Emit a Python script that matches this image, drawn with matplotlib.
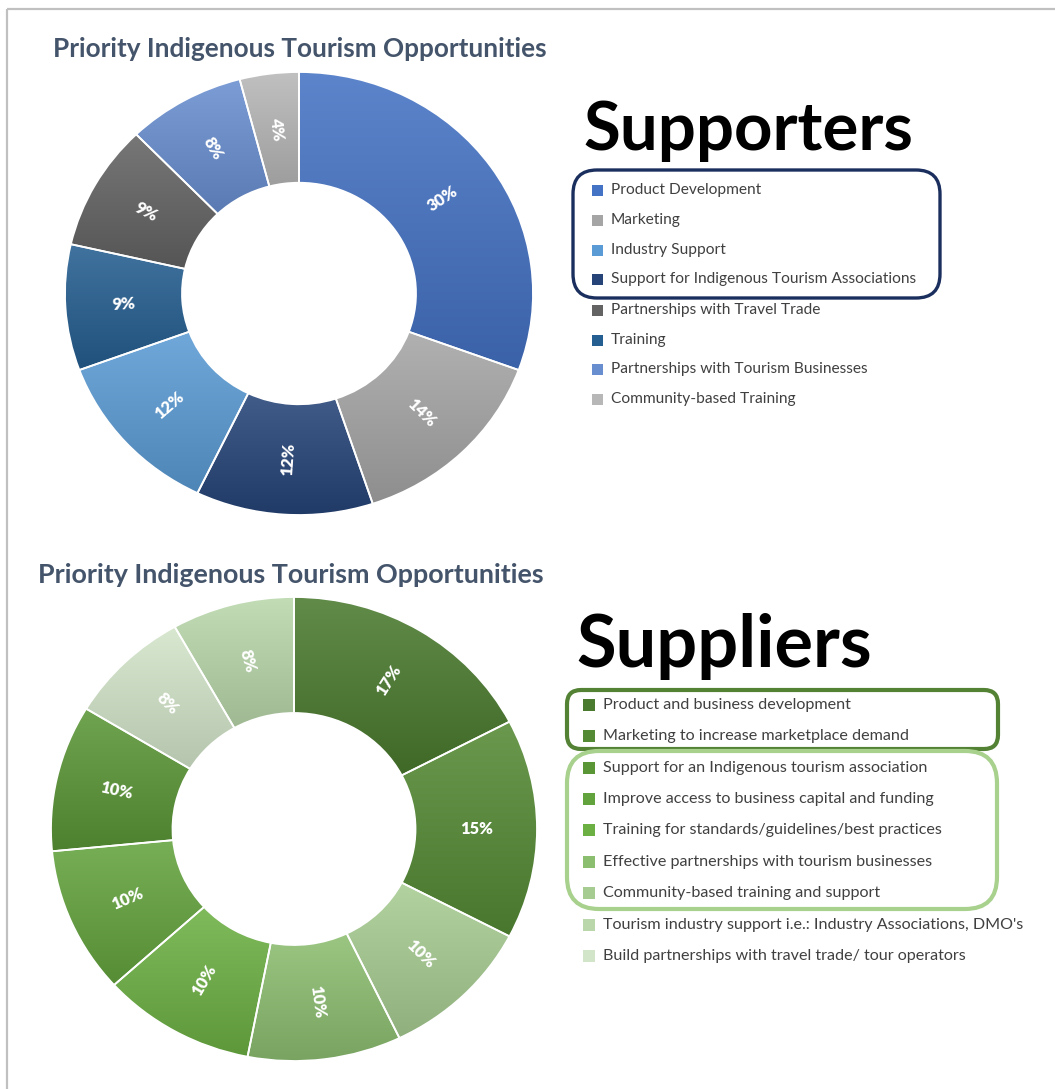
import numpy as np
import matplotlib
matplotlib.use("Agg")
import matplotlib.pyplot as plt
from matplotlib.patches import FancyBboxPatch, Rectangle
from matplotlib.colors import to_rgb

W, H = 1055, 1089
FONT = ["Lato", "DejaVu Sans"]
plt.rcParams["font.family"] = FONT

title_text = "Priority Indigenous Tourism Opportunities"
sup_heading = "Supporters"
spl_heading = "Suppliers"

sup_categories = ["Product Development", "Marketing", "Industry Support",
                  "Support for Indigenous Tourism Associations",
                  "Partnerships with Travel Trade", "Training",
                  "Partnerships with Tourism Businesses", "Community-based Training"]
sup_values = [30, 14, 12, 12, 9, 9, 8, 4]
sup_colors = ["#4472C4", "#A5A5A5", "#5B9BD5", "#264478",
              "#636363", "#255E91", "#698ED0", "#B7B7B7"]
sup_slice_order = [0, 1, 3, 2, 5, 4, 6, 7]

spl_categories = ["Product and business development",
                  "Marketing to increase marketplace demand",
                  "Support for an Indigenous tourism association",
                  "Improve access to business capital and funding",
                  "Training for standards/guidelines/best practices",
                  "Effective partnerships with tourism businesses",
                  "Community-based training and support",
                  "Tourism industry support i.e.: Industry Associations, DMO's",
                  "Build partnerships with travel trade/ tour operators"]
spl_values = [17, 15, 10, 10, 10, 10, 10, 8, 8]
spl_colors = ["#4A7A2E", "#548A34", "#5A9636", "#63A33D", "#6CB043",
              "#8CBE70", "#A7CC92", "#B9D7AB", "#D3E5C9"]
spl_slice_order = [0, 1, 6, 5, 4, 3, 2, 8, 7]

fig = plt.figure(figsize=(W / 100, H / 100), dpi=100)
fig.patch.set_facecolor("white")
renderer = fig.canvas.get_renderer()

# overlay axes in pixel coordinates
ov = fig.add_axes([0, 0, 1, 1])
ov.set_xlim(0, W)
ov.set_ylim(H, 0)
ov.axis("off")


def fit(t, target_w):
    bb = t.get_window_extent(renderer)
    t.set_fontsize(t.get_fontsize() * target_w / bb.width)
    return t.get_fontsize()


def measure_size(s, target_w, **kw):
    t = ov.text(0, 0, s, fontsize=10, **kw)
    fs = fit(t, target_w)
    t.remove()
    return fs


# frame lines
ov.plot([7, W], [9, 9], color="#C0C0C0", lw=1.6, solid_capstyle="butt")
ov.plot([7, 7], [9, H], color="#C0C0C0", lw=1.6, solid_capstyle="butt")


def donut(rect_px, values, colors, order, label_fs):
    l, t, r, b = rect_px
    ax = fig.add_axes([l / W, 1 - b / H, (r - l) / W, (b - t) / H])
    vals = [values[i] for i in order]
    cols = [colors[i] for i in order]
    wedges, _ = ax.pie(vals, colors=cols, startangle=90, counterclock=False,
                       radius=1, wedgeprops=dict(width=0.5, edgecolor="white",
                                                 linewidth=1.3))
    rx, ry = (r - l) / 2, (b - t) / 2
    for w, c, v in zip(wedges, cols, vals):
        t1, t2 = w.theta1, w.theta2
        ang = np.radians(np.linspace(t1, t2, 90))
        ys = np.concatenate([np.sin(ang), 0.5 * np.sin(ang)])
        y0, y1 = ys.min(), ys.max()
        base = np.array(to_rgb(c))
        top = base + (1 - base) * 0.13
        bot = base * 0.86
        g = np.linspace(0, 1, 128)[:, None, None]
        img = bot + (top - bot) * g
        im = ax.imshow(img, extent=(-1, 1, y0, y1), origin="lower",
                       aspect="auto", zorder=1, interpolation="bilinear")
        im.set_clip_path(w)
        w.set_facecolor("none")
        w.set_zorder(3)
        mid = np.radians((t1 + t2) / 2)
        vis = np.degrees(np.arctan2(ry * np.sin(mid), rx * np.cos(mid)))
        vis = ((vis + 180) % 360) - 180
        if vis > 90:
            vis -= 180
        elif vis < -90:
            vis += 180
        ax.text(0.75 * np.cos(mid), 0.75 * np.sin(mid), f"{v}%",
                rotation=vis, rotation_mode="anchor", ha="center",
                va="center", color="white", fontweight="heavy",
                fontsize=label_fs, zorder=4)
    ax.set_aspect("auto")
    ax.set_xlim(-1, 1)
    ax.set_ylim(-1, 1)
    ax.axis("off")
    return ax


label_fs = measure_size("15%", 33, fontweight="heavy")

donut((65, 72, 533, 515), sup_values, sup_colors, sup_slice_order, label_fs)
donut((51, 597, 537, 1061), spl_values, spl_colors, spl_slice_order, label_fs)

# titles
t1 = ov.text(53, 57, title_text, fontweight="bold", color="#44546A",
             fontsize=16, ha="left", va="baseline")
fit(t1, 494)
t2 = ov.text(38, 583, title_text, fontweight="bold", color="#44546A",
             fontsize=16, ha="left", va="baseline")
fit(t2, 510)

# headings
h1 = ov.text(583, 150, sup_heading, fontweight="bold", color="black",
             fontsize=40, ha="left", va="baseline")
fit(h1, 330)
h2 = ov.text(576, 667, spl_heading, fontweight="bold", color="black",
             fontsize=40, ha="left", va="baseline")
fit(h2, 296)

# supporters legend
leg_fs1 = measure_size(sup_categories[3], 306)
sup_rows = [190, 220, 250, 279, 310, 340, 369, 399]
for cat, col, y in zip(sup_categories, sup_colors, sup_rows):
    ov.add_patch(Rectangle((592, y - 5.5), 11, 11, facecolor=col, edgecolor="none"))
    ov.text(611, y, cat, fontsize=leg_fs1, color="#404040", ha="left", va="center")
ov.add_patch(FancyBboxPatch((573, 170), 367, 128,
                            boxstyle="round,pad=0,rounding_size=24",
                            facecolor="none", edgecolor="#1B2F5E", lw=2.4))

# suppliers legend
leg_fs2 = measure_size(spl_categories[8], 365)
spl_rows = [705, 736, 768, 799, 830, 862, 893, 925, 956]
for cat, col, y in zip(spl_categories, spl_colors, spl_rows):
    ov.add_patch(Rectangle((583, y - 6), 12, 12, facecolor=col, edgecolor="none"))
    ov.text(603, y, cat, fontsize=leg_fs2, color="#404040", ha="left", va="center")
ov.add_patch(FancyBboxPatch((567, 690), 431, 59,
                            boxstyle="round,pad=0,rounding_size=14",
                            facecolor="none", edgecolor="#548235", lw=3.0))
ov.add_patch(FancyBboxPatch((567, 751), 430, 158,
                            boxstyle="round,pad=0,rounding_size=32",
                            facecolor="none", edgecolor="#A9D18E", lw=3.0))

fig.savefig("out.png", dpi=100, facecolor="white")
